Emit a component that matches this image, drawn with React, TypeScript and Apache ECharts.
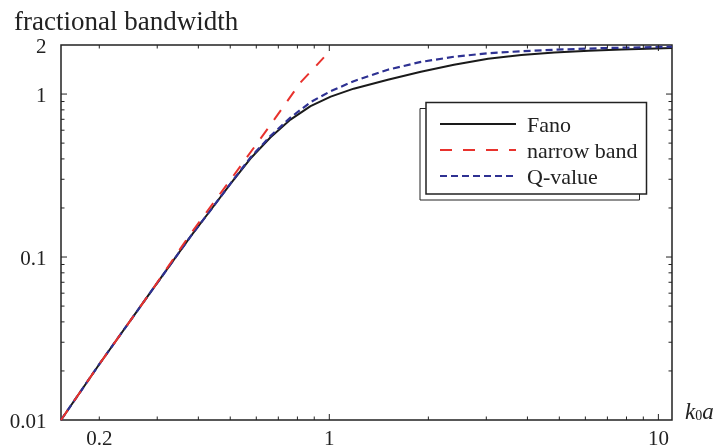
import React, { useEffect, useRef } from "react";
import * as echarts from "echarts";

const X_MIN = 0.153;
const X_MAX = 11;
const Y_MIN = 0.01;
const Y_MAX = 2;

const fanoX = [0.153, 0.2, 0.285, 0.378, 0.435, 0.5, 0.576, 0.662, 0.762, 0.877, 1.01, 1.186, 1.506, 1.898, 2.392, 3.037, 3.832, 4.83, 6.14, 7.74, 11];
const fanoY = [0.01, 0.022, 0.06, 0.133, 0.193, 0.28, 0.402, 0.541, 0.697, 0.843, 0.964, 1.079, 1.225, 1.371, 1.514, 1.648, 1.735, 1.8, 1.845, 1.878, 1.915];

const qX = [0.153, 0.2, 0.285, 0.378, 0.435, 0.5, 0.576, 0.662, 0.762, 0.877, 1.01, 1.186, 1.506, 1.898, 2.392, 3.037, 3.832, 4.83, 6.85, 11];
const qY = [0.01, 0.022, 0.06, 0.133, 0.193, 0.281, 0.408, 0.552, 0.717, 0.892, 1.042, 1.199, 1.41, 1.575, 1.694, 1.78, 1.831, 1.87, 1.915, 1.951];

const nbX = [0.153, 0.2, 0.285, 0.378, 0.512, 0.662, 0.818, 0.963];
const nbY = [0.01, 0.022, 0.06, 0.138, 0.3165, 0.645, 1.179, 1.678];

const xTickLabels = [0.2, 1, 10];
const yTickLabels = [0.01, 0.1, 1, 2];
const xMajorTicks = [1, 10];
const xMinorTicks = [0.2, 0.3, 0.4, 0.5, 0.6, 0.7, 0.8, 0.9, 2, 3, 4, 5, 6, 7, 8, 9];
const yMajorTicks = [0.1, 1];
const yMinorTicks = [0.02, 0.03, 0.04, 0.05, 0.06, 0.07, 0.08, 0.09, 0.2, 0.3, 0.4, 0.5, 0.6, 0.7, 0.8, 0.9];

const MAJOR_LEN = 6;
const MINOR_LEN = 3.5;
const FONT = "'Liberation Serif', 'Times New Roman', serif";
const INK = "#222";

const pair = (xs: number[], ys: number[]) => xs.map((x, i) => [x, ys[i]]);

export default function App() {
  const ref = useRef<HTMLDivElement>(null);
  useEffect(() => {
    if (!ref.current) return;
    const chart = echarts.init(ref.current, null, { renderer: "svg" });

    const xTickData = [
      ...xMajorTicks.map((v) => [v, Y_MIN, MAJOR_LEN]),
      ...xMinorTicks.map((v) => [v, Y_MIN, MINOR_LEN]),
    ];
    const yTickData = [
      ...yMajorTicks.map((v) => [X_MIN, v, MAJOR_LEN]),
      ...yMinorTicks.map((v) => [X_MIN, v, MINOR_LEN]),
    ];

    const lineSeries = (name: string, data: number[][], color: string, width: number, type: any, z: number) => ({
      name,
      type: "line",
      data,
      showSymbol: false,
      symbol: "none",
      smooth: false,
      lineStyle: { color, width, type, join: "round" },
      itemStyle: { color },
      z,
    });

    const option: any = {
      animation: false,
      title: {
        text: "fractional bandwidth",
        left: 9,
        top: 2,
        textStyle: { fontFamily: FONT, fontSize: 27, fontWeight: "normal", color: INK },
      },
      grid: {
        left: 61,
        top: 45,
        right: 46,
        bottom: 28,
        show: true,
        borderColor: INK,
        borderWidth: 1.5,
        backgroundColor: "transparent",
      },
      xAxis: {
        type: "log",
        logBase: 10,
        min: X_MIN,
        max: X_MAX,
        axisLine: { show: false },
        axisTick: { show: false },
        axisLabel: { show: false },
        splitLine: { show: false },
        name: "{k|k}{s|0}{k|a}",
        nameLocation: "end",
        nameGap: 13,
        nameTextStyle: {
          verticalAlign: "middle",
          padding: [0, 0, 18, 0],
          rich: {
            k: { fontFamily: FONT, fontStyle: "italic", fontSize: 23, color: INK },
            s: { fontFamily: FONT, fontSize: 14, color: INK, verticalAlign: "bottom" },
          },
        },
      },
      yAxis: {
        type: "log",
        logBase: 10,
        min: Y_MIN,
        max: Y_MAX,
        axisLine: { show: false },
        axisTick: { show: false },
        axisLabel: { show: false },
        splitLine: { show: false },
      },
      legend: {
        data: ["Fano", "narrow band", "Q-value"],
        orient: "vertical",
        left: 439,
        top: 111,
        padding: 0,
        itemWidth: 76,
        itemHeight: 26,
        itemGap: 0,
        selectedMode: false,
        z: 10,
        itemStyle: { color: "rgba(0,0,0,0)", borderColor: "rgba(0,0,0,0)", borderWidth: 0, opacity: 0 },
        textStyle: { fontFamily: FONT, fontSize: 22, color: INK, lineHeight: 26, padding: [0, 0, 0, 6] },
      },
      graphic: [
        {
          type: "rect",
          z: 1,
          shape: { x: 420, y: 108.5, width: 219.5, height: 91.5 },
          style: { fill: "#fff", stroke: INK, lineWidth: 1 },
        },
        {
          type: "rect",
          z: 2,
          shape: { x: 426, y: 102.5, width: 220.5, height: 91.5 },
          style: { fill: "#fff", stroke: INK, lineWidth: 1.5 },
        },
      ],
      series: [
        lineSeries("Fano", pair(fanoX, fanoY), "#1a1a1a", 2, "solid", 3),
        lineSeries("Q-value", pair(qX, qY), "#2e3192", 2.2, [7, 4], 4),
        lineSeries("narrow band", pair(nbX, nbY), "#e8322d", 2, [12, 11], 5),
        {
          type: "custom",
          coordinateSystem: "cartesian2d",
          silent: true,
          clip: false,
          z: 6,
          data: xTickData,
          renderItem: (_p: any, api: any) => {
            const v = api.value(0);
            const len = api.value(2);
            const b = api.coord([v, Y_MIN]);
            const t = api.coord([v, Y_MAX]);
            return {
              type: "group",
              children: [
                { type: "line", shape: { x1: b[0], y1: b[1], x2: b[0], y2: b[1] - len }, style: { stroke: INK, lineWidth: 1 } },
                { type: "line", shape: { x1: t[0], y1: t[1], x2: t[0], y2: t[1] + len }, style: { stroke: INK, lineWidth: 1 } },
              ],
            };
          },
        },
        {
          type: "custom",
          coordinateSystem: "cartesian2d",
          silent: true,
          clip: false,
          z: 6,
          data: yTickData,
          renderItem: (_p: any, api: any) => {
            const v = api.value(1);
            const len = api.value(2);
            const l = api.coord([X_MIN, v]);
            const r = api.coord([X_MAX, v]);
            return {
              type: "group",
              children: [
                { type: "line", shape: { x1: l[0], y1: l[1], x2: l[0] + len, y2: l[1] }, style: { stroke: INK, lineWidth: 1 } },
                { type: "line", shape: { x1: r[0], y1: r[1], x2: r[0] - len, y2: r[1] }, style: { stroke: INK, lineWidth: 1 } },
              ],
            };
          },
        },
        {
          type: "custom",
          coordinateSystem: "cartesian2d",
          silent: true,
          clip: false,
          z: 6,
          data: xTickLabels.map((v) => [v, Y_MIN]),
          renderItem: (_p: any, api: any) => {
            const v = api.value(0);
            const c = api.coord([v, Y_MIN]);
            return {
              type: "text",
              x: c[0],
              y: c[1] + 17.5,
              style: { text: String(v), fill: INK, font: `21px ${FONT}`, textAlign: "center", textVerticalAlign: "middle" },
            };
          },
        },
        {
          type: "custom",
          coordinateSystem: "cartesian2d",
          silent: true,
          clip: false,
          z: 6,
          data: yTickLabels.map((v) => [X_MIN, v]),
          renderItem: (_p: any, api: any) => {
            const v = api.value(1);
            const c = api.coord([X_MIN, v]);
            return {
              type: "text",
              x: c[0] - 14.5,
              y: c[1] + 1,
              style: { text: String(v), fill: INK, font: `21px ${FONT}`, textAlign: "right", textVerticalAlign: "middle" },
            };
          },
        },
      ],
    };
    chart.setOption(option);
    return () => chart.dispose();
  }, []);
  return <div ref={ref} style={{ position: "fixed", left: 0, top: 0, width: 718, height: 448 }} />;
}
